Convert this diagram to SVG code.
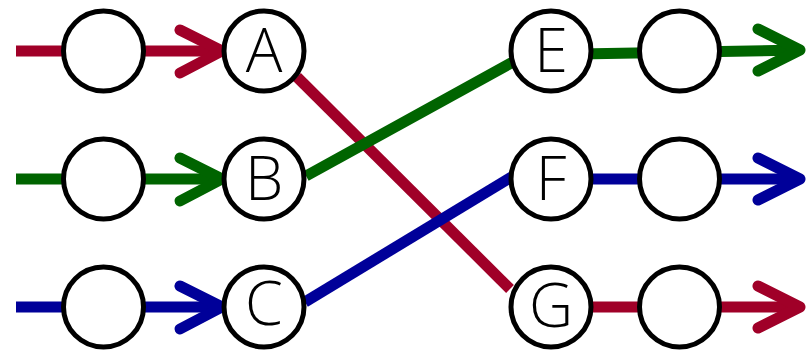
<svg xmlns="http://www.w3.org/2000/svg" width="812" height="351" viewBox="0 0 812 351">
<style>
.node circle{fill:#fff;stroke:#000;stroke-width:5}
.node text{font-family:"Open Sans","Liberation Sans",Arial,sans-serif;font-weight:300;font-size:61px;text-anchor:middle;fill:#000}
.w{fill:none;stroke-width:11;stroke-linecap:butt;stroke-linejoin:round}
.ah{fill:none;stroke-width:11;stroke-linecap:round;stroke-linejoin:round}
.r{stroke:#A00028}.g{stroke:#006400}.b{stroke:#000099}
</style>
<rect width="812" height="351" fill="#fff"/>
<g id="connectors">
<line class="w r" x1="16" y1="51" x2="222" y2="51"/>
<polyline class="ah r" points="180,30 222,51 180,73"/>
<line class="w g" x1="16" y1="179" x2="222" y2="179"/>
<polyline class="ah g" points="180,158 222,179 180,201"/>
<line class="w b" x1="16" y1="307" x2="222" y2="307"/>
<polyline class="ah b" points="180,286 222,307 180,329"/>
<line class="w r" x1="297" y1="77" x2="510" y2="289"/>
<line class="w g" x1="306" y1="176" x2="513" y2="62"/>
<line class="w b" x1="305" y1="302" x2="513" y2="176"/>
<line class="w g" x1="550" y1="54.5" x2="800" y2="50"/>
<polyline class="ah g" points="758,29 800,50 758,71"/>
<line class="w b" x1="550" y1="179" x2="800" y2="179"/>
<polyline class="ah b" points="758,158 800,179 758,200"/>
<line class="w r" x1="550" y1="307" x2="800" y2="307"/>
<polyline class="ah r" points="758,286 800,307 758,328"/>
</g>
<g id="n1" class="node"><circle cx="103.5" cy="51" r="40"/></g>
<g id="A" class="node"><circle cx="264" cy="51" r="40"/><text x="264" y="72">A</text></g>
<g id="n2" class="node"><circle cx="103.5" cy="179" r="40"/></g>
<g id="B" class="node"><circle cx="264" cy="179" r="40"/><text x="264" y="200">B</text></g>
<g id="n3" class="node"><circle cx="103.5" cy="307" r="40"/></g>
<g id="C" class="node"><circle cx="264" cy="307" r="40"/><text x="264" y="325">C</text></g>
<g id="E" class="node"><circle cx="551" cy="51" r="40"/><text x="551" y="72">E</text></g>
<g id="n4" class="node"><circle cx="679.5" cy="51" r="40"/></g>
<g id="F" class="node"><circle cx="551" cy="179" r="40"/><text x="551" y="200">F</text></g>
<g id="n5" class="node"><circle cx="679.5" cy="179" r="40"/></g>
<g id="G" class="node"><circle cx="551" cy="307" r="40"/><text x="551" y="327">G</text></g>
<g id="n6" class="node"><circle cx="679.5" cy="307" r="40"/></g>
</svg>
